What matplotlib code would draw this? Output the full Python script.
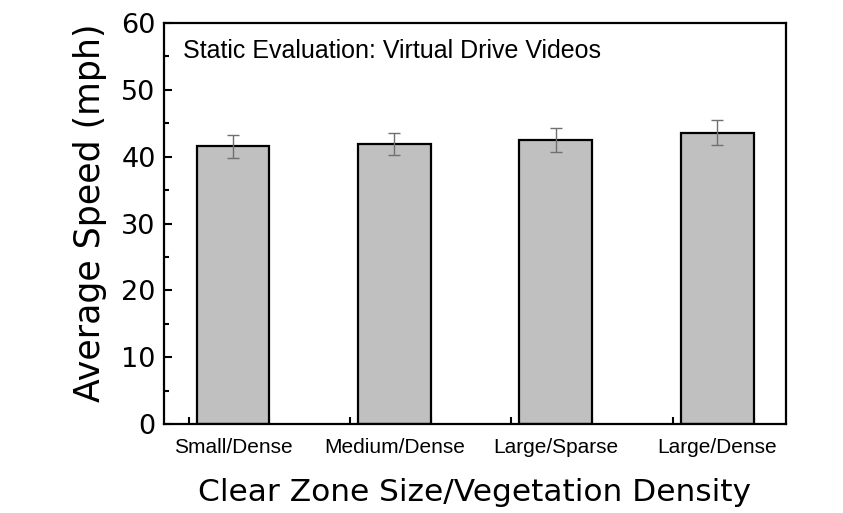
import matplotlib
matplotlib.use("Agg")
import matplotlib.pyplot as plt
import numpy as np

categories = ["Small/Dense", "Medium/Dense", "Large/Sparse", "Large/Dense"]
speeds = [41.55, 41.9, 42.5, 43.6]
errors = [1.7, 1.63, 1.75, 1.9]
y_ticks = [0, 10, 20, 30, 40, 50, 60]

fig = plt.figure(figsize=(8.43, 5.13), dpi=100)
W, H = 843, 513
left, right, top, bottom = 164, 786, 23, 424
ax = fig.add_axes([left / W, 1 - bottom / H, (right - left) / W, (bottom - top) / H])

x = np.arange(1, len(categories) + 1)
ax.bar(x, speeds, width=0.45, color="#c0c0c0", edgecolor="black", linewidth=1.6, zorder=2)
ax.errorbar(x, speeds, yerr=errors, fmt="none", ecolor="#707070", elinewidth=1.0,
            capsize=4, capthick=1.0, zorder=3)

ax.set_xlim(0.573, 4.426)
ax.set_ylim(0, 60)
ax.set_yticks(y_ticks)
ax.set_yticks(np.arange(5, 60, 10), minor=True)
ax.set_xticks(x)
ax.set_xticklabels(categories, fontfamily="Liberation Sans", fontsize=15)
ax.set_xticks(list(np.arange(0.725, 4.3, 0.5)), minor=True)
ax.tick_params(axis="x", which="major", length=0, pad=10)
ax.tick_params(axis="x", which="minor", direction="in", length=5, width=1.5)
ax.tick_params(axis="y", which="major", direction="in", length=6, width=1.5, labelsize=19.5, pad=6)
ax.tick_params(axis="y", which="minor", direction="in", length=3.5, width=1.5)
for s in ax.spines.values():
    s.set_linewidth(1.6)

ax.set_ylabel("Average Speed (mph)", fontsize=25, labelpad=10)
ax.yaxis.label.set_y(0.527)
ax.set_xlabel("Clear Zone Size/Vegetation Density", fontsize=22.5, labelpad=15)
ax.text(0.03, 0.96, "Static Evaluation: Virtual Drive Videos", transform=ax.transAxes,
        fontfamily="Liberation Sans", fontsize=18, va="top", ha="left")

fig.savefig("out.png", dpi=100)
